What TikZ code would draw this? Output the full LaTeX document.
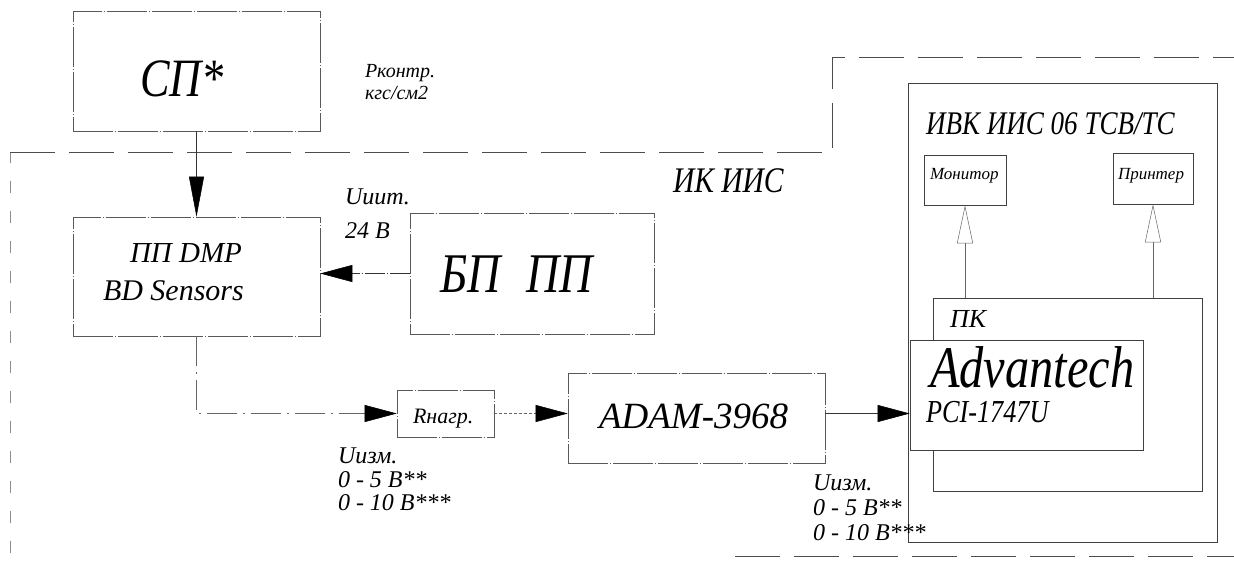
\documentclass[tikz,border=0pt]{standalone}
\usepackage{fontspec}
\setmainfont{Liberation Serif}[FakeStretch=0.82]
\newfontfamily\widefont{Liberation Serif}
\usetikzlibrary{arrows.meta}
\newcommand{\myfs}[1]{\fontsize{#1}{#1}\selectfont\itshape}
\newcommand{\mywf}[1]{\widefont\fontsize{#1}{#1}\selectfont\itshape}
\tikzset{
  box/.style={draw=black!65, line width=0.6pt, fill=white, inner sep=0pt,
     dash pattern=on 40pt off 2pt on 1pt off 2pt},
  sbox/.style={draw=black!75, line width=0.6pt, fill=white, inner sep=0pt},
  txt/.style={anchor=base west, inner sep=0pt, outer sep=0pt},
  farrow/.style={-{Triangle[length=32pt,width=17pt,color=black]}, line width=0.5pt, draw=black!80},
  oarrow/.style={-{Triangle[open,length=38pt,width=16pt]}, line width=0.5pt, draw=black!60},
  bound/.style={draw=black!70, line width=0.6pt, dash pattern=on 45pt off 14pt},
}
\begin{document}
\begin{tikzpicture}[x=1pt,y=-1pt]
\useasboundingbox (0,0) rectangle (1234,564);
% boundary of IK IIS
\coordinate (b1) at (10,553);
\coordinate (b2) at (10,152);
\coordinate (b3) at (832,152);
\coordinate (b4) at (832,57);
\coordinate (b5) at (1234,57);
\coordinate (b6) at (735,556);
\coordinate (b7) at (1234,556);
\draw[draw=black!45, line width=0.5pt, dash pattern=on 12pt off 18pt] (b1) -- (b2);
\draw[bound] (b2) -- (b3) -- (b4) -- (b5);
\draw[bound] (b6) -- (b7);
% boxes
\node[box, minimum width=247pt, minimum height=120pt] (sp) at (196.5,71) {};
\node[box, minimum width=247pt, minimum height=119pt] (pp) at (196.5,276.5) {};
\node[box, minimum width=244pt, minimum height=121pt] (bp) at (532,273.5) {};
\node[box, minimum width=97pt, minimum height=47pt] (rn) at (445.5,413.5) {};
\node[box, minimum width=257pt, minimum height=90pt] (adam) at (696.5,418) {};
\node[sbox, minimum width=309pt, minimum height=459pt] (ivk) at (1062.5,312.5) {};
\node[sbox, minimum width=82pt, minimum height=50pt] (mon) at (965,180) {};
\node[sbox, minimum width=80pt, minimum height=51pt] (prn) at (1153,178.5) {};
\node[sbox, minimum width=269pt, minimum height=193pt] (pk) at (1067.5,394.5) {};
\node[sbox, minimum width=233pt, minimum height=110pt] (adv) at (1026.5,395) {};
% connectors
\draw[-{Triangle[length=40pt,width=15pt,color=black]}, line width=0.5pt, draw=black!80] (sp.south) -- (pp.north);
\draw[farrow, dash pattern=on 20pt off 2pt on 1pt off 2pt] (bp.west) -- (pp.east |- bp.west);
\draw[farrow, draw=black!60, dash pattern=on 30pt off 6pt on 2pt off 6pt] (pp.south) |- (rn.west);
\draw[farrow, draw=black!60, dash pattern=on 3pt off 2pt] (rn.east) -- (adam.west |- rn.east);
\draw[farrow] (adam.east |- rn.east) -- (adv.west |- rn.east);
\draw[oarrow] (mon.south |- pk.north) -- (mon.south);
\draw[oarrow] (prn.south |- pk.north) -- (prn.south);
% texts
\node[txt] (tsp) at (140,97) {\myfs{54}СП*};
\node[txt] (tp1) at (365,78) {\mywf{20}Рконтр.};
\node[txt] (tp2) at (365,100) {\mywf{20}кгс/см2};
\node[txt] (tik) at (673,193) {\myfs{36}ИК ИИС};
\node[txt] (tu1) at (345,205) {\mywf{24}Uиит.};
\node[txt] (tu2) at (345,239) {\mywf{24}24 В};
\node[txt] (tpp1) at (130,262) {\mywf{29}ПП DMP};
\node[txt] (tpp2) at (103,300) {\mywf{30}BD Sensors};
\node[txt] (tbp) at (440,292) {\myfs{56}БП\hspace{26pt}ПП};
\node[txt] (trn) at (413,423) {\mywf{22}Rнагр.};
\node[txt] (tad) at (599,428) {\mywf{37}ADAM-3968};
\node[txt] (tl1) at (338,463) {\mywf{24}Uизм.};
\node[txt] (tl2) at (338,487) {\mywf{24}0 - 5 В**};
\node[txt] (tl3) at (338,510) {\mywf{24}0 - 10 В***};
\node[txt] (tr1) at (813,490) {\mywf{24}Uизм.};
\node[txt] (tr2) at (813,515) {\mywf{24}0 - 5 В**};
\node[txt] (tr3) at (813,540) {\mywf{24}0 - 10 В***};
\node[txt] (tivk) at (926,135) {\myfs{33}ИВК ИИС 06 ТСВ/ТС};
\node[txt] (tmon) at (930,180) {\mywf{17}Монитор};
\node[txt] (tprn) at (1118,180) {\mywf{17}Принтер};
\node[txt] (tpk) at (950,327) {\mywf{26}ПК};
\node[txt] (tadv) at (930,387) {\myfs{59}Advantech};
\node[txt] (tpci) at (926,422) {\myfs{32}PCI-1747U};
\end{tikzpicture}
\end{document}
